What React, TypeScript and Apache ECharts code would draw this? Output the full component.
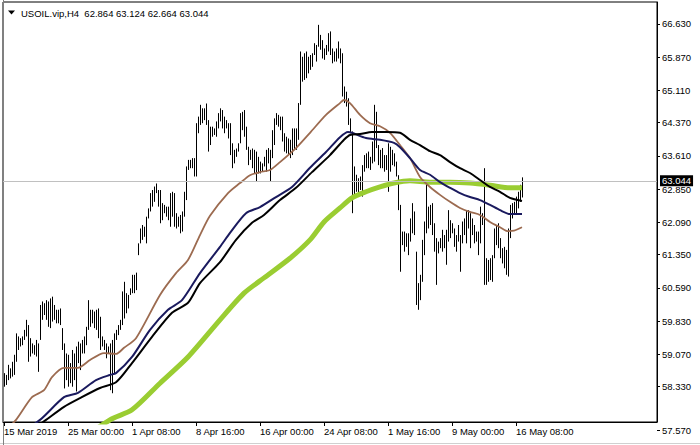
import React, { useEffect, useRef } from 'react';
import * as echarts from 'echarts';

// ---- data (H4 bars, high / low) ----
const highs = [
  58.64, 58.60, 58.83, 58.75, 58.90, 59.06, 59.55, 59.48, 59.44, 59.48,
  59.63, 59.86, 59.74, 59.44, 59.32, 59.28, 59.40, 59.32, 60.20, 60.28,
  60.24, 60.31, 60.28, 60.35, 60.39, 60.20, 60.09, 60.09, 60.12, 59.67,
  59.32, 59.09, 59.06, 58.87, 59.17, 59.09, 59.25, 59.36, 59.32, 59.40,
  59.48, 59.70, 60.31, 60.09, 60.09, 60.05, 60.09, 60.12, 59.93, 59.48,
  59.40, 59.32, 59.25, 59.32, 59.40, 59.55, 59.63, 59.74, 59.86, 60.51,
  60.73, 60.47, 60.43, 60.58, 60.89, 60.89, 60.94, 61.61, 61.95, 62.03,
  61.99, 62.22, 62.41, 62.76, 62.83, 62.91, 62.98, 62.83, 62.83, 62.53,
  62.49, 62.45, 62.45, 62.76, 62.79, 62.76, 62.30, 62.22, 62.26, 62.34,
  62.79, 63.37, 63.52, 63.52, 63.56, 63.56, 64.36, 64.51, 64.78, 64.70,
  64.70, 64.81, 64.43, 64.28, 64.28, 64.24, 64.40, 64.59, 64.70, 64.66,
  64.51, 64.43, 64.36, 64.36, 63.90, 63.75, 63.78, 63.90, 64.59, 64.62,
  64.66, 64.28, 63.82, 63.75, 63.78, 63.75, 63.71, 63.59, 63.48, 63.44,
  63.59, 63.75, 63.79, 63.75, 64.20, 64.47, 64.59, 64.55, 64.51, 64.51,
  64.13, 64.05, 64.01, 63.98, 64.24, 64.24, 64.24, 64.82, 66.00, 65.88,
  65.96, 66.00, 65.88, 65.92, 65.96, 66.19, 66.15, 66.61, 66.38, 66.26,
  66.07, 66.15, 66.42, 66.46, 66.07, 66.00, 66.07, 66.23, 66.07, 65.96,
  65.20, 65.08, 64.93, 64.47, 64.17, 63.37, 63.18, 63.10, 63.14, 63.40,
  63.63, 63.67, 63.71, 63.59, 63.94, 64.78, 64.62, 63.86, 63.75, 63.79,
  63.63, 63.63, 63.90, 63.82, 63.75, 63.67, 63.48, 63.17, 62.49, 61.88,
  61.88, 61.84, 61.84, 62.18, 62.53, 62.34, 61.42, 60.70, 60.89, 61.69,
  62.11, 62.95, 62.45, 62.49, 62.53, 62.07, 61.73, 61.65, 61.73, 61.92,
  61.80, 61.92, 62.37, 62.14, 62.07, 61.95, 61.80, 62.03, 61.80, 62.11,
  62.18, 62.37, 62.37, 62.30, 62.18, 62.03, 61.88, 61.88, 62.45, 62.30,
  63.33, 61.27, 61.23, 61.27, 61.34, 61.95, 62.03, 62.07, 61.73, 61.50,
  61.53, 61.46, 61.95, 62.49, 62.53, 62.56, 62.68, 62.79, 62.95, 63.12,
];

const lows = [
  58.33, 58.37, 58.48, 58.52, 58.56, 58.60, 58.90, 59.17, 59.25, 59.28,
  59.40, 59.48, 58.90, 59.02, 59.09, 59.06, 59.02, 58.67, 59.40, 59.86,
  59.97, 59.86, 59.70, 59.67, 59.82, 59.86, 59.78, 59.78, 59.74, 59.17,
  58.29, 58.48, 58.33, 58.41, 58.33, 58.48, 58.22, 58.87, 58.71, 59.09,
  59.09, 59.28, 59.63, 59.70, 59.78, 59.67, 59.63, 59.44, 59.17, 59.25,
  59.17, 58.98, 59.09, 58.25, 58.18, 58.64, 59.40, 59.51, 59.63, 59.74,
  59.89, 60.01, 60.12, 60.43, 60.47, 60.47, 60.54, 61.34, 61.61, 61.69,
  61.76, 61.61, 62.18, 62.34, 62.45, 62.56, 62.76, 62.45, 62.07, 62.14,
  62.30, 62.22, 62.14, 61.99, 62.22, 61.99, 61.95, 61.99, 61.84, 61.88,
  62.22, 62.60, 63.29, 63.33, 63.33, 63.14, 63.14, 64.13, 64.32, 64.36,
  64.43, 64.32, 63.71, 63.86, 64.05, 64.09, 64.05, 64.24, 64.40, 64.24,
  64.13, 64.24, 64.01, 63.63, 63.33, 63.44, 63.59, 63.71, 63.90, 64.20,
  64.05, 63.75, 63.40, 63.52, 63.33, 63.21, 63.02, 63.21, 63.21, 63.25,
  63.37, 63.25, 63.44, 63.02, 63.56, 63.86, 64.32, 64.28, 64.20, 63.94,
  63.71, 63.67, 63.63, 63.56, 63.63, 63.75, 63.75, 63.98, 64.78, 65.31,
  65.35, 65.39, 65.50, 65.58, 65.65, 65.92, 65.77, 66.11, 66.04, 65.84,
  65.81, 65.92, 66.00, 65.92, 65.73, 65.77, 65.77, 65.84, 65.73, 64.97,
  64.82, 64.74, 64.32, 64.13, 62.30, 62.72, 62.79, 62.68, 62.83, 62.68,
  63.25, 63.33, 63.33, 63.29, 63.44, 63.48, 63.79, 63.40, 63.33, 63.33,
  63.25, 63.29, 62.79, 63.25, 63.40, 63.37, 63.14, 62.37, 60.96, 61.57,
  61.42, 61.53, 61.34, 61.65, 61.84, 61.80, 60.20, 60.09, 60.31, 60.73,
  61.34, 61.84, 61.95, 62.03, 61.80, 61.42, 60.66, 61.38, 61.50, 61.42,
  61.50, 61.12, 61.65, 61.73, 61.84, 61.53, 61.42, 61.65, 60.96, 61.61,
  61.80, 61.61, 61.95, 61.50, 61.80, 61.61, 61.65, 61.34, 61.61, 62.03,
  60.66, 60.66, 60.73, 60.77, 60.73, 61.27, 61.57, 61.50, 61.27, 61.15,
  61.04, 60.89, 60.85, 61.73, 62.18, 62.26, 62.30, 62.41, 62.56, 62.66,
];

// moving averages read at sample bars: [bar index, price]
const maBrown: [number, number][] = [
  [0, 57.29], [6, 57.57], [14, 58.09], [20, 58.25], [24, 58.55], [30, 58.76], [37, 58.76],
  [43, 58.94], [50, 59.10], [56, 59.08], [60, 59.22], [66, 59.44], [78, 60.43], [86, 60.93],
  [92, 61.23], [98, 61.80], [103, 62.24], [112, 62.76], [118, 62.99], [123, 63.17], [128, 63.24],
  [133, 63.29], [138, 63.47], [146, 63.79], [153, 64.14], [161, 64.55], [168, 64.82], [170, 64.89],
  [173, 64.82], [178, 64.55], [183, 64.36], [188, 64.29], [193, 64.14], [198, 63.86], [203, 63.56],
  [208, 63.13], [213, 62.90], [218, 62.72], [223, 62.56], [228, 62.42], [233, 62.33], [238, 62.26],
  [243, 62.10], [248, 61.98], [252, 61.89], [255, 61.90], [259, 61.98],
];
const maNavy: [number, number][] = [
  [0, 57.00], [18, 57.57], [30, 58.09], [37, 58.19], [46, 58.48], [53, 58.60], [56, 58.64],
  [64, 59.01], [73, 59.63], [82, 60.09], [89, 60.31], [98, 60.93], [108, 61.53], [113, 61.85],
  [121, 62.30], [128, 62.44], [136, 62.67], [144, 62.90], [153, 63.34], [161, 63.70], [168, 64.04],
  [172, 64.16], [174, 64.14], [181, 64.02], [188, 63.98], [195, 63.91], [198, 63.81], [203, 63.56],
  [208, 63.29], [213, 63.18], [218, 63.01], [223, 62.88], [228, 62.76], [233, 62.67], [238, 62.60],
  [243, 62.49], [248, 62.37], [253, 62.28], [259, 62.28],
];
const maBlack: [number, number][] = [
  [0, 56.88], [21, 57.57], [30, 57.87], [38, 58.07], [48, 58.30], [56, 58.43], [64, 58.87],
  [74, 59.47], [84, 60.02], [92, 60.25], [98, 60.70], [108, 61.18], [116, 61.69], [124, 62.08],
  [130, 62.26], [138, 62.60], [146, 62.88], [154, 63.24], [163, 63.63], [170, 63.98], [173, 64.09],
  [178, 64.11], [184, 64.16], [191, 64.16], [198, 64.14], [203, 63.98], [208, 63.86], [213, 63.72],
  [218, 63.63], [223, 63.47], [228, 63.33], [233, 63.22], [238, 63.06], [243, 62.90], [248, 62.79],
  [253, 62.65], [259, 62.58],
];
const maLime: [number, number][] = [
  [0, 55.97], [53, 57.57], [64, 57.80], [78, 58.41], [92, 59.01], [108, 59.86], [120, 60.47],
  [130, 60.82], [143, 61.27], [153, 61.69], [160, 62.10], [168, 62.42], [174, 62.65], [181, 62.79],
  [188, 62.90], [195, 62.99], [203, 63.04], [213, 63.01], [223, 63.01], [233, 62.99], [243, 62.94],
  [253, 62.88], [259, 62.88],
];

const yTickValues = [58.33, 59.07, 59.83, 60.59, 61.35, 62.09, 62.85, 63.61, 64.37, 65.11, 65.87, 66.63];
const yBottomLabel = '57.570';
const xTickLabels = [
  '15 Mar 2019', '25 Mar 00:00', '1 Apr 08:00', '8 Apr 16:00', '16 Apr 00:00',
  '24 Apr 08:00', '1 May 16:00', '9 May 00:00', '16 May 08:00',
];
const xTickStep = 32;
const symbolName = 'USOIL.vip,H4';
const lastOHLC = ['62.864', '63.124', '62.664', '63.044'];
const bidPrice = 63.044;
const holidays = ['2019-04-19'];
const SLOTS = 327;
const Y_MIN = 57.522;
const Y_MAX = 67.133;

const MONTHS = ['Jan', 'Feb', 'Mar', 'Apr', 'May', 'Jun', 'Jul', 'Aug', 'Sep', 'Oct', 'Nov', 'Dec'];
function buildCategories(n: number): string[] {
  const out: string[] = [];
  let t = Date.UTC(2019, 2, 15, 16);
  while (out.length < n) {
    const d = new Date(t);
    const dow = d.getUTCDay();
    const key = d.toISOString().slice(0, 10);
    if (dow !== 0 && dow !== 6 && !holidays.includes(key)) {
      out.push(`${d.getUTCDate()} ${MONTHS[d.getUTCMonth()]} ${String(d.getUTCHours()).padStart(2, '0')}:00`);
    }
    t += 4 * 3600 * 1000;
  }
  return out;
}

const FONT = '"Liberation Sans", Arial, sans-serif';

export default function App() {
  const ref = useRef<HTMLDivElement>(null);
  useEffect(() => {
    document.body.style.margin = '0';
    if (!ref.current) return;
    const chart = echarts.init(ref.current, undefined, { renderer: 'svg' });
    const categories = buildCategories(SLOTS);
    const showTick = (i: number) => i % xTickStep === 0 && i / xTickStep < xTickLabels.length;
    const maLine = (data: [number, number][], color: string, width: number, z: number) => ({
      type: 'line',
      data,
      symbol: 'none',
      silent: true,
      clip: true,
      smooth: 0.25,
      z,
      lineStyle: { color, width },
    });
    chart.setOption({
      animation: false,
      backgroundColor: '#ffffff',
      textStyle: { fontFamily: FONT },
      grid: {
        left: 3, right: 43, top: 2, bottom: 23,
        show: true, borderColor: '#000', borderWidth: 1,
      },
      xAxis: {
        type: 'category',
        data: categories,
        boundaryGap: true,
        axisLine: { show: true, lineStyle: { color: '#000', width: 1 } },
        axisTick: {
          show: true, alignWithLabel: true, length: 4,
          interval: (i: number) => showTick(i),
          lineStyle: { color: '#000' },
        },
        axisLabel: {
          interval: (i: number) => showTick(i),
          formatter: (_v: string, i: number) => xTickLabels[i / xTickStep] ?? '',
          align: 'left',
          margin: 4,
          color: '#000',
          fontSize: 9.5,
          fontFamily: FONT,
        },
        splitLine: { show: false },
      },
      yAxis: [
        {
          type: 'value',
          position: 'right',
          min: Y_MIN,
          max: Y_MAX,
          axisLine: { show: true, lineStyle: { color: '#000', width: 1 } },
          axisTick: { show: true, length: 3, customValues: yTickValues, lineStyle: { color: '#000' } },
          axisLabel: {
            customValues: yTickValues,
            formatter: (v: number) => v.toFixed(3),
            margin: 5,
            color: '#000',
            fontSize: 9.5,
            fontFamily: FONT,
          },
          splitLine: { show: false },
        },
        {
          type: 'value',
          position: 'right',
          min: Y_MIN,
          max: Y_MAX,
          axisLine: { show: false },
          axisTick: { show: false },
          splitLine: { show: false },
          axisLabel: {
            customValues: [bidPrice],
            formatter: (v: number) => v.toFixed(3),
            margin: 3,
            color: '#fff',
            backgroundColor: '#000',
            padding: [1, 2, 0, 2],
            fontSize: 9.5,
            fontFamily: FONT,
          },
        },
      ],
      series: [
        {
          type: 'line',
          yAxisIndex: 1,
          data: [],
          silent: true,
          z: 1,
          markLine: {
            silent: true,
            symbol: 'none',
            label: { show: false },
            lineStyle: { color: '#c0c0c0', width: 1, type: 'solid' },
            data: [{ yAxis: bidPrice }],
          },
        },
        {
          type: 'custom',
          z: 2,
          clip: true,
          silent: true,
          data: highs.map((h, i) => [i, lows[i], h]),
          encode: { x: 0, y: [1, 2] },
          renderItem: (_p: any, api: any) => {
            const i = api.value(0);
            const a = api.coord([i, api.value(1)]);
            const b = api.coord([i, api.value(2)]);
            const px = Math.round(a[0]) + 0.5;
            return {
              type: 'line',
              shape: { x1: px, y1: a[1], x2: px, y2: b[1] },
              style: { stroke: '#000', lineWidth: 1 },
            };
          },
        },
        maLine(maLime, '#9acd32', 5, 3),
        maLine(maBrown, '#9c6b50', 1.8, 4),
        maLine(maNavy, '#1a1a5e', 2, 5),
        maLine(maBlack, '#000000', 2, 6),
      ],
      graphic: [
        { type: 'polygon', shape: { points: [[8, 10.5], [15, 10.5], [11.5, 14.5]] }, style: { fill: '#000' } },
        {
          type: 'text', x: 21, y: 13,
          style: {
            text: `${symbolName}  ${lastOHLC.join(' ')}`,
            fill: '#000', fontSize: 9.5, fontFamily: FONT, verticalAlign: 'middle',
          },
        },
        { type: 'line', shape: { x1: 657, y1: 430.5, x2: 660, y2: 430.5 }, style: { stroke: '#000', lineWidth: 1 } },
        {
          type: 'text', x: 662, y: 430.5,
          style: { text: yBottomLabel, fill: '#000', fontSize: 9.5, fontFamily: FONT, verticalAlign: 'middle' },
        },
        { type: 'line', shape: { x1: 0, y1: 443.5, x2: 700, y2: 443.5 }, style: { stroke: '#d0d0d0', lineWidth: 1 } },
        { type: 'line', shape: { x1: 3.5, y1: 0, x2: 3.5, y2: 445 }, style: { stroke: '#808080', lineWidth: 1 } },
      ],
    });
    return () => chart.dispose();
  }, []);
  return <div ref={ref} style={{ position: 'fixed', left: 0, top: 0, width: 700, height: 445 }} />;
}
